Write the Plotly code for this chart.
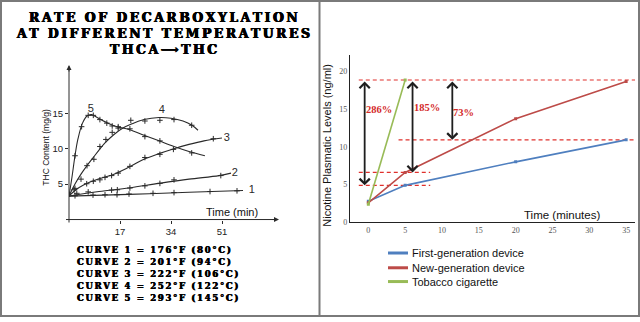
import plotly.graph_objects as go

W, H = 640, 322

# ---------------- Left chart data (THCA -> THC) ----------------
c1_line_t = [0, 20, 40, 58]
c1_line_v = [3.3, 3.55, 3.85, 4.1]
c1_pts_t = [2, 8, 12, 16, 20, 28, 35, 47, 56]
c1_pts_v = [3.35, 3.45, 3.5, 3.5, 3.6, 3.7, 3.8, 3.95, 4.05]

c2_line_t = [0, 10, 20, 30, 40, 50, 54]
c2_line_v = [3.3, 3.95, 4.45, 5.1, 5.7, 6.2, 6.55]
c2_pts_t = [2.6, 6.4, 14.2, 16.1, 20.3, 25.3, 30.3, 35, 50.6]
c2_pts_v = [3.7, 3.9, 4.15, 4.2, 4.45, 4.75, 5.1, 5.6, 6.2]

c3_line_t = [0, 2, 5, 10, 15, 20, 25, 30, 35, 40, 45, 51]
c3_line_v = [3.3, 4.1, 4.9, 5.75, 6.4, 7.4, 8.5, 9.3, 10.0, 10.6, 11.1, 11.5]
c3_pts_t = [1.7, 5.9, 8.1, 10.3, 12, 14.2, 16.4, 20.3, 25.3, 30.3, 34.8, 48.1]
c3_pts_v = [4.2, 5.05, 5.4, 5.6, 5.95, 6.2, 6.55, 7.5, 8.75, 9.2, 9.9, 11.4]

c4_line_t = [0, 2, 4, 6, 8, 10, 12, 15, 18, 21, 25, 30, 34, 38, 41, 43]
c4_line_v = [3.3, 5.0, 6.4, 7.6, 8.7, 9.8, 10.8, 12.0, 12.9, 13.5, 14.1, 14.4, 14.3, 13.9, 13.3, 12.6]
c4_pts_t = [2, 4, 6, 8.3, 10.3, 12.3, 14.4, 16.4, 20.6, 25.3, 30.3, 35, 40.9]
c4_pts_v = [4.4, 5.7, 7.6, 8.5, 10.3, 11.3, 12.3, 12.9, 14.0, 13.9, 14.0, 14.1, 13.3]

c5_line_t = [0, 1, 2, 3, 4.5, 6, 7.5, 9, 11, 13, 16, 20, 25, 30, 35, 40, 45.3]
c5_line_v = [3.3, 6.0, 9.0, 11.4, 13.6, 14.6, 14.8, 14.5, 14.0, 13.6, 13.1, 12.7, 11.9, 11.1, 10.3, 9.6, 9.0]
c5_pts_t = [2, 4.2, 6.4, 8.1, 10.3, 12.6, 14.4, 16.4, 20.3, 25.3, 30.3, 40.9]
c5_pts_v = [9.0, 13.1, 14.7, 14.7, 14.1, 13.6, 13.2, 13.1, 12.8, 11.7, 11.1, 9.4]

curve_names = ["1", "2", "3", "4", "5"]
curve_label_t = [60.9, 55.3, 52.6, 30.9, 7.3]
curve_label_v = [4.2, 6.6, 11.5, 15.4, 15.6]
left_xticks = [17, 34, 51]
left_yticks = [5, 10, 15]
curve_legend = [
    "CURVE 1 = 176°F (80°C)",
    "CURVE 2 = 201°F (94°C)",
    "CURVE 3 = 222°F (106°C)",
    "CURVE 4 = 252°F (122°C)",
    "CURVE 5 = 293°F (145°C)",
]
title_lines = ["RATE OF DECARBOXYLATION", "AT DIFFERENT TEMPERATURES", "THCA⟶THC"]

# ---------------- Right chart data (nicotine) ----------------
time_min = [0, 5, 20, 35]
first_gen = [2.8, 4.9, 8.0, 10.9]
new_gen = [2.6, 6.6, 13.7, 18.6]
tobacco_t = [0, 5]
tobacco = [2.4, 18.8]
series_names = ["First-generation device", "New-generation device", "Tobacco cigarette"]
right_xticks = [0, 5, 10, 15, 20, 25, 30, 35]
right_yticks = [0, 5, 10, 15, 20]
ref_levels = [18.8, 10.9, 6.6, 4.9]
ref_x0 = [-1.3, 4.1, -1.3, -1.3]
ref_x1 = [36.5, 36.5, 8.4, 8.4]
arrow_x = [-0.5, 6.0, 11.4]
arrow_top = [18.8, 18.8, 18.8]
arrow_bottom = [4.9, 6.6, 10.9]
pct_labels = ["286%", "185%", "73%"]
pct_x = [1.4, 7.9, 12.9]
pct_y = [14.9, 15.2, 14.5]

BLUE, RED, GREEN = "#4f7fbf", "#bd4b48", "#98bb57"
INK = "#2a2a2a"
HEAVY = "0.5px 0 0 #000, -0.4px 0 0 #000, 0 0.3px 0 #000"


def px(x):
    return x / W


def py(y):
    return 1 - y / H


def spaced(s, sep="\u2009"):
    return sep.join(list(s))


def note(x, y, text, size, family="Liberation Sans", color="#111", xanchor="center", angle=0,
         weight="normal", shadow="none"):
    return dict(x=px(x), y=py(y), xref="paper", yref="paper", text=text, showarrow=False,
                xanchor=xanchor, yanchor="middle", textangle=angle,
                font=dict(family=family, size=size, color=color, weight=weight, shadow=shadow))


fig = go.Figure()

# left curves
line_sets = [(c1_line_t, c1_line_v, c1_pts_t, c1_pts_v),
             (c2_line_t, c2_line_v, c2_pts_t, c2_pts_v),
             (c3_line_t, c3_line_v, c3_pts_t, c3_pts_v),
             (c4_line_t, c4_line_v, c4_pts_t, c4_pts_v),
             (c5_line_t, c5_line_v, c5_pts_t, c5_pts_v)]
for lt, lv, pt, pv in line_sets:
    fig.add_trace(go.Scatter(x=lt, y=lv, mode="lines", xaxis="x", yaxis="y",
                             line=dict(color=INK, width=1.1, shape="spline", smoothing=1.0),
                             showlegend=False, hoverinfo="skip"))
    fig.add_trace(go.Scatter(x=pt, y=pv, mode="markers", xaxis="x", yaxis="y",
                             marker=dict(symbol="cross-thin", size=4, line=dict(color=INK, width=1)),
                             showlegend=False, hoverinfo="skip"))
fig.add_trace(go.Scatter(x=curve_label_t, y=curve_label_v, mode="text", text=curve_names,
                         xaxis="x", yaxis="y", textfont=dict(family="Liberation Sans", size=11, color=INK),
                         showlegend=False, hoverinfo="skip"))

# right series
for xs, ys, col, nm in [(time_min, first_gen, BLUE, series_names[0]),
                        (time_min, new_gen, RED, series_names[1]),
                        (tobacco_t, tobacco, GREEN, series_names[2])]:
    fig.add_trace(go.Scatter(x=xs, y=ys, mode="lines+markers", xaxis="x2", yaxis="y2",
                             line=dict(color=col, width=1.6), marker=dict(symbol="square", size=3, color=col),
                             name=nm, showlegend=False))

shapes = []
annotations = []

# reference dashed lines
for lvl, a, b in zip(ref_levels, ref_x0, ref_x1):
    shapes.append(dict(type="line", xref="x2", yref="y2", x0=a, x1=b, y0=lvl, y1=lvl,
                       line=dict(color="#e0302c", width=1.2, dash="4px,3px"), layer="below"))
# double arrows
for ax_, top, bot in zip(arrow_x, arrow_top, arrow_bottom):
    annotations.append(dict(x=ax_, y=bot, ax=ax_, ay=top, xref="x2", yref="y2", axref="x2", ayref="y2",
                            text="", showarrow=True, arrowhead=4, startarrowhead=4, arrowside="end+start",
                            arrowsize=1.1, startarrowsize=1.1, arrowwidth=1.8, arrowcolor="#1e1e1e"))
for t, x, y in zip(pct_labels, pct_x, pct_y):
    annotations.append(dict(x=x, y=y, xref="x2", yref="y2", text="<b>%s</b>" % t, showarrow=False,
                            xanchor="center", yanchor="middle",
                            font=dict(family="Liberation Serif", size=10.5, color="#d42a2a")))

# right axis titles
annotations.append(note(327, 148, "Nicotine Plasmatic Levels (ng/ml)", 11, angle=-90))
annotations.append(note(562, 218, "Time (minutes)", 11.5))

# manual legend for right chart
leg_y = [257, 272, 286]
for name, col, yy in zip(series_names, [BLUE, RED, GREEN], leg_y):
    shapes.append(dict(type="line", xref="paper", yref="paper", x0=px(388), x1=px(408), y0=py(yy), y1=py(yy),
                       line=dict(color=col, width=3)))
    annotations.append(note(410, yy, name, 11, xanchor="left"))

# left axes lines with arrow heads
shapes.append(dict(type="line", xref="paper", yref="paper", x0=px(66), x1=px(276), y0=py(223), y1=py(223),
                   line=dict(color=INK, width=1)))
shapes.append(dict(type="line", xref="paper", yref="paper", x0=px(69), x1=px(69), y0=py(226), y1=py(70),
                   line=dict(color=INK, width=1)))
annotations.append(dict(x=px(279), y=py(223), xref="paper", yref="paper", ax=-8, ay=0, text="",
                        showarrow=True, arrowhead=2, arrowsize=1, arrowwidth=1, arrowcolor=INK))
annotations.append(dict(x=px(69), y=py(66), xref="paper", yref="paper", ax=0, ay=8, text="",
                        showarrow=True, arrowhead=2, arrowsize=1, arrowwidth=1, arrowcolor=INK))

# left axis titles
annotations.append(note(46, 150, "THC Content (mg/g)", 8.5, angle=-90))
annotations.append(note(260, 215, "Time (min)", 11, xanchor="right"))

# title
for txt, yy in zip(title_lines, [18, 34, 50]):
    annotations.append(note(163, yy, spaced(txt), 12.5, family="DejaVu Serif", color="#000", weight="bold",
                            shadow=HEAVY))
# curve legend
for i, txt in enumerate(curve_legend):
    annotations.append(note(75, 254 + 12.3 * i, spaced(txt), 8.5, family="DejaVu Serif", color="#000",
                            xanchor="left", weight="bold", shadow="0.4px 0 0 #000, -0.3px 0 0 #000"))

# panel borders
shapes.append(dict(type="rect", xref="paper", yref="paper", x0=px(1), x1=px(639), y0=py(321), y1=py(1),
                   line=dict(color="#7a7a7a", width=2)))
shapes.append(dict(type="line", xref="paper", yref="paper", x0=px(319.5), x1=px(319.5), y0=py(0), y1=py(322),
                   line=dict(color="#7a7a7a", width=2)))

fig.update_layout(
    width=W, height=H, margin=dict(l=0, r=0, t=0, b=0),
    paper_bgcolor="white", plot_bgcolor="rgba(0,0,0,0)",
    showlegend=False,
    xaxis=dict(domain=[px(69), px(278)], range=[0, (278 - 69) / 3], anchor="y",
               tickvals=left_xticks, ticks="outside", ticklen=3, tickcolor=INK, showline=False,
               showgrid=False, zeroline=False, tickfont=dict(family="Liberation Sans", size=9.5, color="#222")),
    yaxis=dict(domain=[py(223), py(67)], range=[0, 156 / 7.2], anchor="x",
               tickvals=left_yticks, ticks="outside", ticklen=3, tickcolor=INK, showline=False,
               showgrid=False, zeroline=False, tickfont=dict(family="Liberation Sans", size=9.5, color="#222")),
    xaxis2=dict(domain=[px(350), px(635)], range=[-2.49, 36.2], anchor="y2",
                tickvals=right_xticks, ticks="", showline=True, linecolor="#222", linewidth=1.2,
                showgrid=False, zeroline=False, tickfont=dict(family="Liberation Serif", size=8, color="#555")),
    yaxis2=dict(domain=[py(226), py(56)], range=[0, 170 / 7.7], anchor="x2",
                tickvals=right_yticks, ticks="", showline=True, linecolor="#222", linewidth=1.2,
                showgrid=False, zeroline=False, tickfont=dict(family="Liberation Serif", size=8, color="#555")),
    shapes=shapes, annotations=annotations,
)

fig.write_html("out.html")
